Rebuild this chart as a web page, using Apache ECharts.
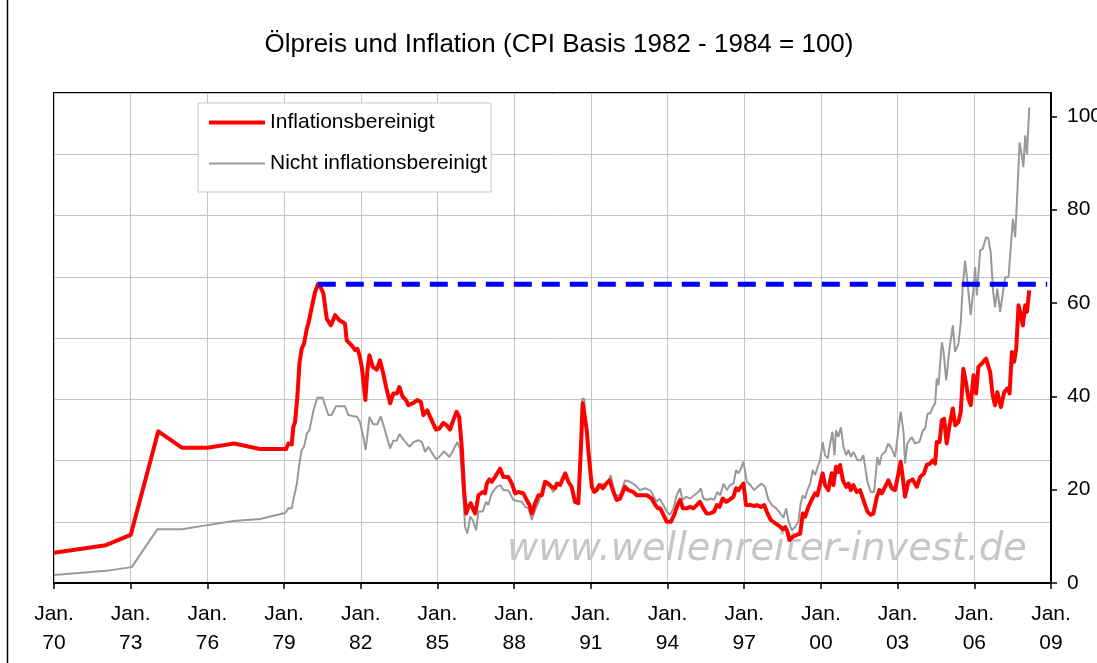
<!DOCTYPE html>
<html>
<head>
<meta charset="utf-8">
<script src="https://cdn.jsdelivr.net/npm/echarts@6/dist/echarts.min.js"></script>
<style>
html,body{margin:0;padding:0;background:#fff;}
#chart{width:1097px;height:663px;}
</style>
</head>
<body>
<div id="chart"></div>
<script>
// ---- data (decimal years, USD) ----
const titleText = 'Ölpreis und Inflation (CPI Basis 1982 - 1984 = 100)';
const seriesNames = ['Inflationsbereinigt', 'Nicht inflationsbereinigt'];
const xTickYears = [1970,1973,1976,1979,1982,1985,1988,1991,1994,1997,2000,2003,2006,2009];
const yTickValues = [0,20,40,60,80,100];
const watermarkText = 'www.wellenreiter-invest.de';

const realYears = [1970.00,1972.03,1973.00,1974.08,1975.00,1976.00,1977.05,1978.06,1979.08,1979.17,1979.30,1979.36,1979.43,1979.52,1979.60,1979.69,1979.78,1979.89,1979.95,1980.02,1980.12,1980.21,1980.32,1980.43,1980.54,1980.67,1980.83,1981.00,1981.16,1981.38,1981.45,1981.65,1981.78,1981.87,1981.95,1982.04,1982.10,1982.18,1982.26,1982.34,1982.47,1982.63,1982.75,1982.88,1982.99,1983.15,1983.27,1983.41,1983.51,1983.64,1983.77,1983.86,1984.06,1984.21,1984.35,1984.45,1984.60,1984.77,1984.94,1985.07,1985.23,1985.36,1985.49,1985.62,1985.75,1985.85,1985.95,1986.04,1986.12,1986.21,1986.30,1986.38,1986.47,1986.54,1986.60,1986.67,1986.77,1986.86,1986.93,1987.03,1987.12,1987.25,1987.45,1987.58,1987.77,1987.91,1988.04,1988.17,1988.36,1988.49,1988.60,1988.69,1988.82,1988.95,1989.08,1989.21,1989.34,1989.47,1989.60,1989.67,1989.80,1989.93,1990.00,1990.12,1990.25,1990.38,1990.51,1990.62,1990.68,1990.75,1990.84,1990.90,1990.97,1991.04,1991.13,1991.23,1991.33,1991.47,1991.60,1991.73,1991.86,1992.01,1992.14,1992.34,1992.47,1992.66,1992.80,1992.99,1993.19,1993.38,1993.50,1993.62,1993.71,1993.84,1993.97,1994.13,1994.26,1994.39,1994.49,1994.60,1994.75,1994.88,1995.01,1995.14,1995.27,1995.40,1995.53,1995.66,1995.82,1995.93,1996.03,1996.16,1996.29,1996.42,1996.58,1996.68,1996.77,1996.87,1996.97,1997.07,1997.23,1997.39,1997.49,1997.65,1997.78,1997.91,1998.04,1998.21,1998.38,1998.51,1998.60,1998.69,1998.77,1998.90,1999.05,1999.19,1999.29,1999.38,1999.51,1999.64,1999.77,1999.86,1999.97,2000.07,2000.16,2000.29,2000.42,2000.49,2000.59,2000.68,2000.75,2000.86,2000.99,2001.08,2001.17,2001.27,2001.40,2001.53,2001.66,2001.82,2001.95,2002.05,2002.19,2002.29,2002.38,2002.51,2002.64,2002.77,2002.90,2003.03,2003.12,2003.20,2003.29,2003.42,2003.59,2003.75,2003.88,2004.03,2004.14,2004.27,2004.38,2004.47,2004.53,2004.64,2004.73,2004.82,2004.92,2005.03,2005.16,2005.25,2005.38,2005.47,2005.57,2005.68,2005.77,2005.86,2005.97,2006.07,2006.16,2006.29,2006.46,2006.62,2006.72,2006.81,2006.90,2007.04,2007.17,2007.30,2007.38,2007.47,2007.56,2007.64,2007.73,2007.82,2007.90,2007.99,2008.06,2008.15];
const realValues = [6.5,8.1,10.3,32.5,29.0,29.0,29.9,28.7,28.7,29.9,29.7,33.4,34.5,39.9,47.0,50.2,51.3,54.5,55.6,55.2,60.0,62.3,64.0,63.4,62.0,56.6,55.2,57.4,56.3,55.6,52.0,50.9,49.9,50.2,48.8,46.3,43.4,39.2,45.6,48.8,46.3,45.7,47.7,44.9,42.0,38.5,40.6,40.6,42.0,39.9,39.2,38.1,38.6,39.2,38.8,36.0,37.0,34.9,32.9,33.1,34.3,33.8,32.9,34.9,36.7,35.6,29.2,19.9,14.9,16.3,17.1,16.0,14.9,16.7,18.8,18.5,19.5,19.2,21.3,22.2,21.7,22.7,24.5,22.7,22.7,21.3,19.2,19.5,19.2,17.8,16.7,14.9,17.1,18.8,18.8,21.7,21.3,20.6,20.3,21.3,21.0,22.7,23.5,21.7,20.6,17.4,17.1,29.9,38.5,38.5,32.7,28.5,28.1,20.6,19.5,19.9,21.0,20.3,21.3,22.0,19.9,17.8,18.1,20.6,19.9,19.5,18.8,18.8,18.8,18.1,16.9,16.0,16.0,14.6,13.1,13.1,14.6,16.7,17.8,16.0,16.0,16.3,16.0,16.7,17.4,16.0,14.9,14.9,15.3,16.7,16.3,18.1,17.4,17.8,18.5,20.3,19.9,20.6,21.3,16.7,16.7,16.5,16.7,16.3,16.7,14.9,13.5,12.8,12.2,11.5,12.0,11.0,9.2,9.9,10.3,10.6,14.9,14.2,16.3,17.8,19.2,18.8,21.3,23.5,21.0,19.9,23.5,21.0,24.9,23.8,25.3,22.0,20.6,21.3,19.9,21.0,19.5,19.9,17.8,15.3,14.6,14.9,18.5,19.9,19.2,20.6,22.0,20.3,19.9,23.5,26.0,22.7,18.5,21.7,22.2,20.6,22.7,23.5,25.3,25.6,26.3,25.6,30.2,30.2,34.9,35.2,29.9,33.8,37.4,33.8,34.5,36.7,45.9,42.7,39.5,38.1,44.5,40.6,46.3,47.0,48.1,45.2,40.2,38.1,40.9,37.7,40.9,41.7,40.6,49.5,47.4,50.2,59.5,57.4,55.2,59.5,58.1,62.7];

const nominalYears = [1970.00,1972.03,1973.04,1974.04,1975.00,1976.00,1977.02,1978.06,1979.04,1979.17,1979.30,1979.39,1979.50,1979.60,1979.69,1979.78,1979.89,1979.99,1980.15,1980.30,1980.51,1980.73,1980.86,1981.03,1981.38,1981.51,1981.74,1981.84,1981.97,1982.10,1982.19,1982.34,1982.49,1982.65,1982.78,1982.91,1983.02,1983.15,1983.27,1983.41,1983.51,1983.69,1983.90,1984.06,1984.25,1984.39,1984.52,1984.64,1984.84,1984.97,1985.13,1985.26,1985.47,1985.62,1985.78,1985.88,1985.99,1986.08,1986.17,1986.28,1986.38,1986.51,1986.60,1986.77,1986.90,1986.99,1987.12,1987.32,1987.45,1987.58,1987.77,1987.97,1988.17,1988.30,1988.43,1988.56,1988.69,1988.82,1989.01,1989.21,1989.41,1989.53,1989.69,1989.90,1990.00,1990.16,1990.29,1990.42,1990.51,1990.60,1990.66,1990.74,1990.81,1990.88,1990.94,1991.04,1991.13,1991.26,1991.43,1991.56,1991.69,1991.78,1991.95,1992.14,1992.34,1992.53,1992.73,1992.92,1993.12,1993.34,1993.51,1993.58,1993.68,1993.84,1993.97,1994.10,1994.23,1994.36,1994.49,1994.58,1994.73,1994.88,1995.04,1995.21,1995.30,1995.40,1995.56,1995.69,1995.82,1995.95,1996.06,1996.19,1996.32,1996.45,1996.58,1996.68,1996.77,1996.87,1996.97,1997.10,1997.23,1997.39,1997.52,1997.68,1997.81,1997.95,1998.08,1998.25,1998.40,1998.53,1998.64,1998.73,1998.86,1998.99,1999.12,1999.21,1999.29,1999.38,1999.47,1999.58,1999.68,1999.77,1999.90,1999.97,2000.07,2000.16,2000.27,2000.36,2000.45,2000.53,2000.59,2000.68,2000.78,2000.88,2000.99,2001.08,2001.17,2001.27,2001.43,2001.56,2001.66,2001.82,2001.95,2002.08,2002.21,2002.29,2002.38,2002.51,2002.64,2002.77,2002.90,2003.03,2003.12,2003.23,2003.29,2003.38,2003.55,2003.68,2003.85,2003.99,2004.08,2004.17,2004.27,2004.38,2004.47,2004.53,2004.60,2004.73,2004.79,2004.90,2005.03,2005.16,2005.25,2005.38,2005.47,2005.55,2005.64,2005.73,2005.86,2005.97,2006.03,2006.10,2006.23,2006.33,2006.46,2006.55,2006.64,2006.74,2006.81,2006.90,2007.01,2007.12,2007.21,2007.34,2007.43,2007.51,2007.60,2007.69,2007.77,2007.86,2007.92,2007.99,2008.06,2008.15];
const nominalValues = [1.7,2.6,3.4,11.5,11.5,12.4,13.3,13.7,15.0,16.0,16.0,18.5,21.3,25.6,28.5,29.2,32.0,32.7,37.0,39.7,39.7,36.0,36.0,37.9,37.9,36.0,35.7,35.7,34.5,31.3,28.5,35.6,34.0,34.0,35.7,33.4,31.3,28.8,30.5,30.5,31.9,30.6,29.2,30.2,30.6,30.2,28.1,29.2,27.4,26.5,27.4,28.2,27.0,28.5,30.2,28.8,20.6,12.0,10.6,14.2,13.5,11.3,15.3,15.3,17.4,16.7,19.2,20.6,21.0,19.9,19.9,17.8,17.5,17.4,16.3,16.0,13.5,15.6,18.1,21.3,20.6,19.5,21.0,22.0,23.5,21.3,19.9,17.4,17.1,30.6,39.5,39.5,34.2,28.5,28.1,21.3,19.9,20.6,21.3,20.6,22.0,23.1,18.8,18.8,22.0,21.7,21.0,19.9,20.3,19.8,18.0,17.4,18.1,16.7,15.3,14.6,16.0,18.8,20.3,17.8,18.5,18.1,18.8,19.5,20.3,18.1,17.8,18.1,17.8,19.5,18.8,21.3,19.9,21.0,21.3,24.2,23.5,24.5,26.0,21.7,21.0,19.9,20.6,21.3,20.6,17.8,16.7,16.0,15.0,14.0,16.0,13.3,11.3,12.0,13.1,17.1,18.8,18.1,19.9,21.3,24.2,23.1,25.3,26.3,30.2,27.4,26.7,29.9,32.4,27.4,32.7,31.3,33.4,29.2,27.4,28.5,27.0,28.1,26.3,26.3,27.4,21.7,19.5,19.5,27.0,25.3,27.4,28.1,29.9,28.8,27.0,32.7,36.7,32.4,25.6,29.9,31.3,29.9,30.2,32.7,33.1,36.3,36.3,37.7,38.5,43.8,42.4,51.6,49.9,43.4,50.2,55.2,49.5,51.3,55.9,63.8,69.1,64.5,57.4,63.1,67.7,61.6,71.3,71.6,74.1,73.8,70.9,62.3,59.1,63.1,58.1,62.3,65.5,65.5,72.3,78.0,74.1,84.5,94.4,91.6,89.1,95.9,91.9,101.9];

// previous high (1980) carried forward
const highYears = [1980.32, 2008.85];
const highValues = [64.0, 64.0];

const zip = (xs, ys) => xs.map((x, i) => [x, ys[i]]);

const FONT = '"Liberation Sans", Arial, sans-serif';
const chart = echarts.init(document.getElementById('chart'), null, {renderer: 'canvas'});

chart.setOption({
  animation: false,
  backgroundColor: '#ffffff',
  title: {
    text: titleText,
    left: 554, top: 27, textAlign: 'center',
    textStyle: {fontFamily: FONT, fontSize: 26, fontWeight: 'normal', color: '#000'}
  },
  legend: {
    data: [
      {name: seriesNames[0], lineStyle: {width: 4, color: '#ff0000'}},
      {name: seriesNames[1], lineStyle: {width: 2, color: '#999999'}}
    ],
    orient: 'vertical',
    left: 198, top: 103,
    padding: [9, 4, 18, 9],
    itemWidth: 56, itemHeight: 14, itemGap: 20,
    backgroundColor: '#ffffff',
    borderColor: '#c8c8c8', borderWidth: 1,
    itemStyle: {opacity: 0},
    textStyle: {fontFamily: FONT, fontSize: 21, color: '#000'},
    selectedMode: false
  },
  grid: {
    left: 54, top: 93, right: 46, bottom: 80,
    outerBoundsMode: 'none', containLabel: false,
    show: true, borderColor: '#000', borderWidth: 2, backgroundColor: 'transparent'
  },
  xAxis: {
    type: 'value', min: 1970, max: 2009, interval: 3,
    axisLine: {show: true, onZero: false, lineStyle: {color: '#000', width: 2}},
    axisTick: {show: true, inside: false, length: 6, lineStyle: {color: '#000', width: 1.5}},
    splitLine: {show: true, lineStyle: {color: '#c4c4c4', width: 1}},
    axisLabel: {
      margin: 17, fontFamily: FONT, fontSize: 21, color: '#000', lineHeight: 29,
      formatter: v => 'Jan.\n' + String(v).slice(2)
    }
  },
  yAxis: [
    {
      type: 'value', min: 0, max: 8, interval: 1, position: 'left',
      axisLine: {show: false}, axisTick: {show: false}, axisLabel: {show: false},
      splitLine: {show: true, lineStyle: {color: '#c4c4c4', width: 1}}
    },
    {
      type: 'value', min: 0, max: 105, interval: 20, position: 'right',
      axisLine: {show: true, lineStyle: {color: '#000', width: 2}},
      axisTick: {show: true, inside: false, length: 6, customValues: yTickValues, lineStyle: {color: '#000', width: 1.5}},
      splitLine: {show: false},
      axisLabel: {margin: 16, fontFamily: FONT, fontSize: 21, color: '#000', customValues: yTickValues}
    }
  ],
  series: [
    {
      name: seriesNames[1], type: 'line', yAxisIndex: 1,
      data: zip(nominalYears, nominalValues),
      symbol: 'none', showSymbol: false, z: 2,
      lineStyle: {color: '#999999', width: 2},
      itemStyle: {color: '#999999'}
    },
    {
      name: seriesNames[0], type: 'line', yAxisIndex: 1,
      data: zip(realYears, realValues),
      symbol: 'none', showSymbol: false, z: 3,
      lineStyle: {color: '#ff0000', width: 4, join: 'round'},
      itemStyle: {color: '#ff0000'}
    },
    {
      name: 'Hoch 1980', type: 'line', yAxisIndex: 1,
      data: zip(highYears, highValues),
      symbol: 'none', showSymbol: false, z: 4,
      lineStyle: {color: '#0000ff', width: 5, type: [18, 10]},
      itemStyle: {color: '#0000ff'}
    }
  ],
  graphic: [
    {
      type: 'text', left: 507, top: 531, z: 1, silent: true,
      style: {text: watermarkText, fontFamily: '"DejaVu Sans", sans-serif', fontStyle: 'italic', fontSize: 38.3, fill: '#c6c6c6'}
    },
    {
      type: 'line', silent: true,
      shape: {x1: 7.5, y1: 0, x2: 7.5, y2: 663},
      style: {stroke: '#000', lineWidth: 1.5}
    }
  ]
});
</script>
</body>
</html>
